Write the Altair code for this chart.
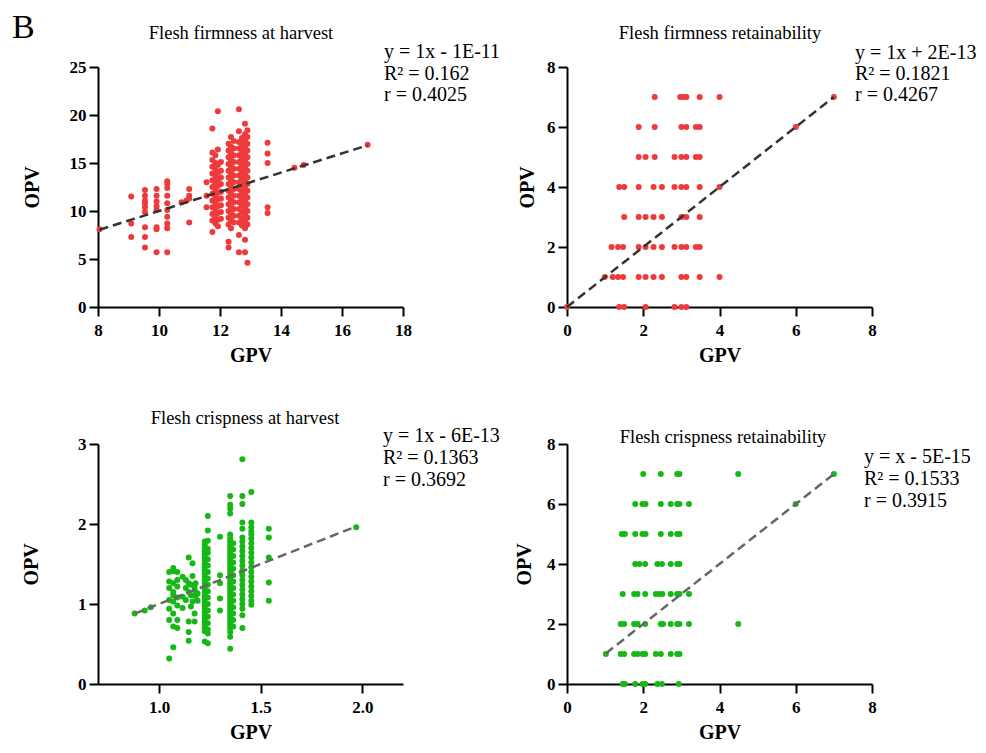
import altair as alt
import pandas as pd

# ---------------- data ----------------
# Panel A: Flesh firmness at harvest  -> (GPV x, [OPV values])
firm_harvest_cols = [
    (8.05, [8.1]),
    (9.09, [11.5, 8.7, 7.3]),
    (9.54, [12.2, 11.6, 11.1, 10.8, 10.4, 9.9, 8.3, 7.3, 6.2]),
    (9.92, [12.3, 11.6, 11.0, 10.5, 10.1, 8.3, 8.1, 5.7]),
    (10.27, [13.1, 12.8, 12.4, 11.6, 10.8, 10.1, 9.4, 8.7, 8.2, 5.7]),
    (10.74, [10.9]),
    (10.90, [11.1]),
    (10.99, [12.3, 11.6, 11.3, 8.8]),
    (11.56, [13.0, 11.6, 10.4]),
    (11.75, [18.6, 16.1, 15.3, 14.6, 13.9, 13.2, 12.5, 11.8, 11.1, 10.4, 9.7, 9.0, 7.8]),
    (11.85, [15.8, 15.0, 14.3, 13.6, 12.9, 12.2, 11.5, 10.8, 10.1, 9.4, 8.7]),
    (11.93, [20.4, 16.4, 14.8, 14.0, 13.3, 12.6, 11.9, 11.2, 10.5, 9.8, 9.1, 8.4]),
    (12.03, [15.1, 14.2, 13.5, 12.8, 12.0, 11.3, 10.6, 9.9, 9.2]),
    (12.28, [17.0, 16.3, 15.6, 14.9, 14.2, 13.5, 12.8, 12.1, 11.4, 10.7, 10.0, 9.3, 8.6, 6.8, 6.2]),
    (12.36, [17.7, 16.7, 16.0, 15.3, 14.6, 13.9, 13.2, 12.5, 11.8, 11.1, 10.4, 9.7, 9.0, 8.2]),
    (12.45, [17.3, 16.5, 15.8, 15.1, 14.4, 13.7, 13.0, 12.3, 11.6, 10.9, 10.2, 9.5, 8.8]),
    (12.62, [20.6, 18.3, 17.2, 16.5, 15.8, 15.1, 14.4, 13.7, 13.0, 12.3, 11.6, 10.9, 10.2, 9.5, 8.8, 7.5, 5.7]),
    (12.72, [17.6, 16.9, 16.2, 15.5, 14.8, 14.1, 13.4, 12.7, 12.0, 11.3, 10.6, 9.9, 9.2, 8.5]),
    (12.82, [19.1, 18.0, 17.3, 16.6, 15.9, 15.2, 14.5, 13.8, 13.1, 12.4, 11.7, 11.0, 10.3, 9.6, 8.9, 8.2, 7.0, 5.7]),
    (12.90, [18.4, 17.7, 17.0, 16.3, 15.6, 14.9, 14.2, 13.5, 12.8, 12.1, 11.4, 10.7, 10.0, 9.3, 8.6, 4.6]),
    (13.56, [17.1, 16.0, 15.0, 10.4, 9.8]),
    (14.44, [14.5]),
    (14.74, [14.8]),
    (16.84, [16.9]),
]

# Panel B: Flesh firmness retainability -> (OPV y, [GPV values])
firm_retain_rows = [
    (7, [2.30, 2.97, 3.05, 3.13, 3.48, 4.00, 7.00]),
    (6, [1.88, 2.30, 3.00, 3.13, 3.38, 3.48, 6.00]),
    (5, [1.88, 2.06, 2.30, 2.82, 3.00, 3.13, 3.38, 3.48]),
    (4, [1.37, 1.50, 1.88, 2.27, 2.49, 2.82, 3.00, 3.13, 3.48, 4.00]),
    (3, [1.50, 1.88, 2.06, 2.27, 2.49, 3.00, 3.13, 3.48]),
    (2, [1.17, 1.34, 1.47, 1.88, 2.06, 2.27, 2.49, 2.82, 3.00, 3.13, 3.38, 3.48]),
    (1, [0.99, 1.20, 1.34, 1.47, 1.88, 2.06, 2.27, 2.49, 3.00, 3.13, 3.48, 4.00]),
    (0, [0.00, 1.37, 1.50, 2.06, 2.82, 3.00, 3.13]),
]

# Panel C: Flesh crispness at harvest -> (GPV x, [OPV values])
crisp_harvest_cols = [
    (0.88, [0.88]),
    (0.93, [0.92]),
    (0.96, [0.96]),
    (1.05, [1.40, 1.28, 1.20, 1.05, 0.94, 0.80, 0.32]),
    (1.07, [1.45, 1.41, 1.26, 1.15, 1.11, 1.03, 0.88, 0.72, 0.46]),
    (1.09, [1.40, 1.30, 1.22, 1.08, 0.98, 0.80, 0.70]),
    (1.116, [1.34, 1.09, 0.95]),
    (1.132, [1.30, 1.05, 1.20]),
    (1.146, [1.58, 1.26, 1.15, 0.78, 0.65, 0.54]),
    (1.157, [1.11, 0.97, 1.24]),
    (1.165, [1.51, 1.03, 1.35]),
    (1.175, [0.88, 0.78, 1.20]),
    (1.18, [1.26, 1.15, 1.10]),
    (1.19, [1.13, 1.04]),
    (1.225, [1.78, 1.74, 1.70, 1.66, 1.62, 1.58, 1.54, 1.50, 1.46, 1.42, 1.38, 1.34, 1.30, 1.26, 1.22,
             1.18, 1.14, 1.10, 1.06, 1.02, 0.98, 0.94, 0.90, 0.86, 0.82, 0.78, 0.74, 0.70, 0.66, 0.53]),
    (1.24, [2.10, 1.92, 1.79, 1.69, 1.64, 1.56, 1.48, 1.40, 1.32, 1.24, 1.16, 1.08, 1.00, 0.92, 0.84,
            0.76, 0.68, 0.63, 0.51]),
    (1.30, [1.84, 1.36, 1.26, 1.07, 0.92]),
    (1.35, [2.35, 2.24, 2.19, 2.13, 1.87, 1.82, 1.78, 1.74, 1.70, 1.66, 1.62, 1.58, 1.54, 1.50, 1.46,
            1.42, 1.38, 1.34, 1.30, 1.26, 1.22, 1.18, 1.14, 1.10, 1.06, 1.02, 0.98, 0.94, 0.90, 0.86,
            0.82, 0.78, 0.74, 0.70, 0.65, 0.59, 0.44]),
    (1.365, [1.76, 1.68, 1.60, 1.52, 1.44, 1.36, 1.28, 1.20, 1.12, 1.04, 0.96, 0.88, 0.80, 0.72]),
    (1.41, [2.81, 2.35, 2.25, 2.02, 1.94, 1.83, 1.78, 1.72, 1.66, 1.60, 1.54, 1.48, 1.42, 1.36, 1.30,
            1.24, 1.18, 1.12, 1.06, 1.00, 0.94, 0.86, 0.70]),
    (1.454, [2.40, 2.02, 1.96, 1.91, 1.87, 1.82, 1.76, 1.70, 1.64, 1.58, 1.52, 1.46, 1.40, 1.34, 1.28,
             1.22, 1.16, 1.10, 1.04, 0.99]),
    (1.54, [1.94, 1.83, 1.58, 1.27, 1.04]),
    (1.97, [1.96]),
]

# Panel D: Flesh crispness retainability -> (OPV y, [GPV values])
crisp_retain_rows = [
    (7, [2.00, 2.46, 2.89, 2.95, 4.49, 7.00]),
    (6, [1.79, 1.98, 2.06, 2.46, 2.72, 2.89, 2.95, 3.20, 6.00]),
    (5, [1.44, 1.52, 1.79, 1.98, 2.06, 2.46, 2.72, 2.89, 2.95]),
    (4, [1.79, 1.90, 2.05, 2.37, 2.49, 2.72, 2.89, 2.95]),
    (3, [1.46, 1.76, 1.85, 2.05, 2.33, 2.42, 2.50, 2.72, 2.89, 2.95, 3.20]),
    (2, [1.41, 1.50, 1.76, 1.85, 2.05, 2.46, 2.52, 2.72, 2.89, 2.95, 3.20, 4.49]),
    (1, [1.02, 1.41, 1.50, 1.76, 1.85, 1.98, 2.05, 2.33, 2.46, 2.72, 2.89, 2.95]),
    (0, [1.46, 1.52, 1.79, 1.98, 2.05, 2.37, 2.49, 2.93]),
]

titles = ["Flesh firmness at harvest", "Flesh firmness retainability",
          "Flesh crispness at harvest", "Flesh crispness retainability"]
stats = [
    ["y = 1x - 1E-11", "R\u00b2 = 0.162", "r = 0.4025"],
    ["y = 1x + 2E-13", "R\u00b2 = 0.1821", "r = 0.4267"],
    ["y = 1x - 6E-13", "R\u00b2 = 0.1363", "r = 0.3692"],
    ["y = x - 5E-15", "R\u00b2 = 0.1533", "r = 0.3915"],
]


def cols_to_df(cols):
    return pd.DataFrame([{"GPV": x, "OPV": y} for x, ys in cols for y in ys])


def rows_to_df(rows):
    return pd.DataFrame([{"GPV": x, "OPV": y} for y, xs in rows for x in xs])


FONT = "Liberation Serif"
W, H = 305, 240
RED = "#ee3a3a"
GREEN = "#16b816"


def panel(df, color, line_color, xdom, xvals, xfmt, ydom, yvals, ytp,
          title, tx, ty, stat, sx, sy, lh, extra=None):
    xenc = alt.X("GPV:Q", scale=alt.Scale(domain=xdom, nice=False, zero=False),
                 axis=alt.Axis(values=xvals, format=xfmt, title="GPV"))
    yenc = alt.Y("OPV:Q", scale=alt.Scale(domain=ydom, nice=False, zero=False),
                 axis=alt.Axis(values=yvals, format="d", title="OPV", titlePadding=ytp))
    pts = alt.Chart(df).mark_circle(size=36, opacity=1, color=color).encode(x=xenc, y=yenc)
    lo, hi = float(df["GPV"].min()), float(df["GPV"].max())
    ldf = pd.DataFrame({"GPV": [lo, hi], "OPV": [lo, hi]})
    line = alt.Chart(ldf).mark_line(color=line_color, strokeDash=[9, 5],
                                    strokeWidth=2.5).encode(x=xenc, y=yenc)
    one = alt.Data(values=[{}])
    st = alt.Chart(one).mark_text(align="left", baseline="alphabetic", font=FONT, fontSize=20,
                                  lineBreak="\n", lineHeight=lh, color="black").encode(
        x=alt.value(sx), y=alt.value(sy), text=alt.value("\n".join(stat)))
    tt = alt.Chart(one).mark_text(align="center", baseline="alphabetic", font=FONT,
                                  fontSize=18.5, color="black").encode(
        x=alt.value(tx), y=alt.value(ty), text=alt.value(title))
    layers = [pts, line, st, tt]
    if extra is not None:
        layers.append(extra)
    return alt.layer(*layers).properties(width=W, height=H)


letter = alt.Chart(alt.Data(values=[{}])).mark_text(
    align="left", baseline="alphabetic", font=FONT, fontSize=34, color="black").encode(
    x=alt.value(-86), y=alt.value(-29), text=alt.value("B"))

p1 = panel(cols_to_df(firm_harvest_cols), RED, "#333333", [8, 18], [8, 10, 12, 14, 16, 18], "d",
           [0, 25], [0, 5, 10, 15, 20, 25], 27, titles[0], 143, -28, stats[0], 286, -9, 21.5, letter)
p2 = panel(rows_to_df(firm_retain_rows), RED, "#333333", [0, 8], [0, 2, 4, 6, 8], "d",
           [0, 8], [0, 2, 4, 6, 8], 9, titles[1], 153, -28, stats[1], 288, -8, 21)
p3 = panel(cols_to_df(crisp_harvest_cols), GREEN, "#666666", [0.7, 2.2], [1.0, 1.5, 2.0], ".1f",
           [0, 3], [0, 1, 2, 3], 36, titles[2], 147, -20, stats[2], 285, -2, 22)
p4 = panel(rows_to_df(crisp_retain_rows), GREEN, "#666666", [0, 8], [0, 2, 4, 6, 8], "d",
           [0, 8], [0, 2, 4, 6, 8], 12, titles[3], 156, -1, stats[3], 297, 19, 22)

chart = alt.concat(p1, p2, p3, p4, columns=2, spacing={"row": 137, "column": 164},
                   bounds="flush").properties(
    padding={"left": 4, "top": 3, "right": 0, "bottom": 0}
).configure_axis(
    domainColor="black", domainWidth=2, tickColor="black", tickWidth=2, tickSize=9,
    labelFont=FONT, labelFontSize=17, labelFontWeight="bold", labelColor="black",
    titleFont=FONT, titleFontSize=20, titleFontWeight="bold", titleColor="black",
    grid=False, labelFlush=False
).configure_axisX(labelPadding=6, titlePadding=7).configure_axisY(labelPadding=3).configure_view(
    stroke=None)

chart.save("out.html", embed_options={"renderer": "svg", "actions": False})
